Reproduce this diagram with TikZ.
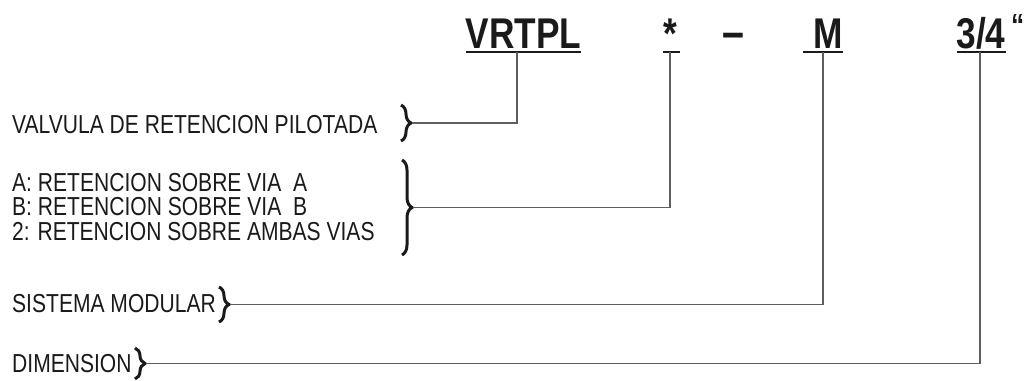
\documentclass[tikz,border=0pt]{standalone}
\usepackage{fontspec}
\setmainfont{Liberation Sans}[FakeStretch=0.81]
\newfontfamily\codefont{Liberation Sans}[FakeStretch=0.82]
\usetikzlibrary{decorations.pathreplacing}
\definecolor{inkblack}{HTML}{1A1A1A}
\definecolor{linkgray}{HTML}{5E5E5E}
\tikzset{
  lbl/.style={anchor=base west, inner sep=0pt, text=inkblack,
              text height=19pt, text depth=0pt,
              font=\fontsize{26}{30}\selectfont},
  code/.style={anchor=base, inner sep=0pt, text=inkblack,
               font=\codefont\bfseries\fontsize{43}{50}\selectfont},
  uline/.style={line width=2.4pt, draw=inkblack},
  link/.style={line width=1.3pt, draw=linkgray},
  brc/.style={decorate, decoration={brace, amplitude=#1}, line width=3pt, draw=inkblack},
}

\begin{document}
\begin{tikzpicture}[x=1pt, y=-1pt]
  \useasboundingbox (0,0) rectangle (1024,380);
  % codigo de designacion
  \node[code] (vrtpl) at (523.5,48) {VRTPL};
  \node[code] (ast) at (670.5,48) {*};
  \node[code, font=\codefont\bfseries\fontsize{48}{50}\selectfont] (dash) at (733,48) {–};
  \node[code] (mod) at (828,48) {M};
  \node[code] (size) at (981,48) {3/4};
  \node[code, anchor=base west, font=\codefont\bfseries\fontsize{32}{36}\selectfont] (inch) at (1011,36) {“};
  \foreach \a/\b in {466/581, 663/680, 803/843, 957/1006}
    \draw[uline] (\a,52) -- (\b,52);

  % descripciones
  \node[lbl] (valv) at (12,133) {VALVULA DE RETENCION PILOTADA};
  \foreach \i/\txt in {0/{A: RETENCION SOBRE VIA~ A},1/{B: RETENCION SOBRE VIA~ B},2/{2: RETENCION SOBRE AMBAS VIAS}}
    \node[lbl] (ret\i) at (12,191+\i*24.5) {\txt};
  \node[lbl] (sist) at (12,312) {SISTEMA MODULAR};
  \node[lbl] (dim) at (12,372) {DIMENSION};

  \foreach \i/\x/\ya/\yb in {1/401/105/141, 2/402/160/255, 3/219/287/322, 4/135/348/379}{
    \draw[brc=10] (\x,\ya) -- (\x,\yb);
    \coordinate (tip\i) at (\x+11,{(\ya+\yb)/2});}

  \coordinate (drop1) at (517,52);
  \coordinate (drop2) at (670,52);
  \coordinate (drop3) at (823,52);
  \coordinate (drop4) at (980,52);
  \foreach \i in {1,...,4}
    \draw[link] (drop\i) |- (tip\i);
\end{tikzpicture}
\end{document}
